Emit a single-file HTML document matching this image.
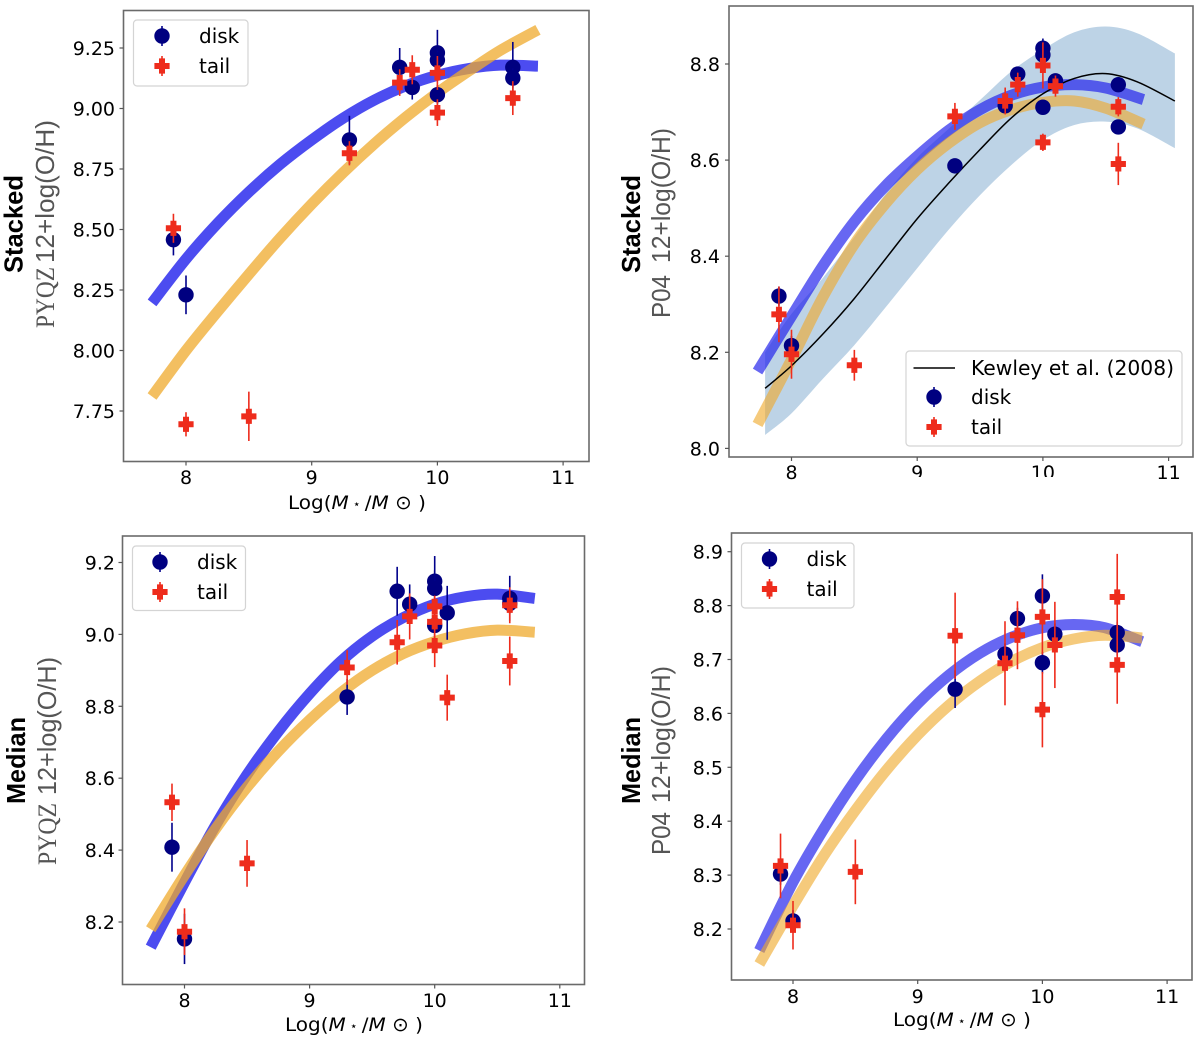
<!DOCTYPE html>
<html lang="en">
<head>
<meta charset="utf-8">
<title>Mass-metallicity relation panels</title>
<style>
html,body{margin:0;padding:0;background:#fff}
svg{display:block;filter:blur(0.35px)}
text{font-family:"DejaVu Sans","Liberation Sans",sans-serif}
</style>
</head>
<body>
<svg id="figure" width="1200" height="1039" viewBox="0 0 1200 1039" xmlns="http://www.w3.org/2000/svg"></svg>
<script>
// ---------- shared data ----------
const xTickLabels = [8, 9, 10, 11];
const curveX = [7.73, 8, 8.25, 8.5, 8.75, 9, 9.25, 9.5, 9.75, 10, 10.25, 10.5, 10.8];

// ---------- panel 1: Stacked PYQZ ----------
const p1YTicks = ['7.75', '8.00', '8.25', '8.50', '8.75', '9.00', '9.25'];
const p1DiskX = [7.9, 8, 9.3, 9.7, 9.8, 10, 10, 10, 10.6, 10.6];
const p1DiskY = [8.458, 8.23, 8.87, 9.17, 9.087, 9.23, 9.2, 9.057, 9.17, 9.126];
const p1DiskErr = [0.065, 0.08, 0.1, 0.08, 0.05, 0.095, 0.04, 0.04, 0.105, 0.04];
const p1TailX = [7.9, 8, 8.5, 9.3, 9.7, 9.8, 10, 10, 10.6];
const p1TailY = [8.505, 7.695, 7.728, 8.815, 9.107, 9.16, 9.147, 8.983, 9.043];
const p1TailErr = [0.06, 0.05, 0.102, 0.05, 0.055, 0.06, 0.07, 0.055, 0.07];
const p1Blue = [8.197, 8.378, 8.525, 8.655, 8.77, 8.87, 8.96, 9.035, 9.094, 9.137, 9.165, 9.179, 9.175];
const p1Orange = [7.81, 8.0, 8.16, 8.315, 8.465, 8.605, 8.735, 8.855, 8.965, 9.065, 9.155, 9.24, 9.325];

// ---------- panel 2: Stacked P04 ----------
const p2YTicks = ['8.0', '8.2', '8.4', '8.6', '8.8'];
const p2DiskX = [7.9, 8, 9.3, 9.7, 9.8, 10, 10, 10, 10.1, 10.6, 10.6];
const p2DiskY = [8.317, 8.214, 8.588, 8.713, 8.779, 8.833, 8.819, 8.71, 8.765, 8.757, 8.669];
const p2DiskErr = [0.02, 0.02, 0.015, 0.015, 0.015, 0.02, 0.015, 0.015, 0.015, 0.015, 0.015];
const p2TailX = [7.9, 8, 8.5, 9.3, 9.7, 9.8, 10, 10, 10.1, 10.6, 10.6];
const p2TailY = [8.279, 8.196, 8.173, 8.691, 8.723, 8.757, 8.797, 8.637, 8.754, 8.711, 8.592];
const p2TailErr = [0.058, 0.051, 0.032, 0.028, 0.028, 0.025, 0.048, 0.018, 0.022, 0.02, 0.044];
const p2Blue = [8.16, 8.275, 8.38, 8.472, 8.547, 8.608, 8.662, 8.705, 8.735, 8.752, 8.757, 8.75, 8.726];
const p2Orange = [8.05, 8.185, 8.315, 8.425, 8.51, 8.58, 8.635, 8.678, 8.705, 8.72, 8.723, 8.708, 8.675];
const kewleyX = [7.79, 8, 8.25, 8.5, 8.75, 9, 9.25, 9.5, 9.75, 10, 10.25, 10.5, 10.75, 11.05];
const kewleyY = [8.125, 8.172, 8.238, 8.312, 8.395, 8.478, 8.552, 8.622, 8.688, 8.738, 8.77, 8.78, 8.763, 8.723];
const kewleyUpper = [8.2, 8.28, 8.355, 8.44, 8.53, 8.605, 8.665, 8.725, 8.785, 8.83, 8.866, 8.878, 8.864, 8.822];
const kewleyLower = [8.028, 8.073, 8.145, 8.215, 8.294, 8.375, 8.455, 8.527, 8.59, 8.642, 8.673, 8.68, 8.666, 8.625];

// ---------- panel 3: Median PYQZ ----------
const p3YTicks = ['8.2', '8.4', '8.6', '8.8', '9.0', '9.2'];
const p3DiskX = [7.9, 8, 9.3, 9.7, 9.8, 10, 10, 10, 10.1, 10.6, 10.6];
const p3DiskY = [8.408, 8.153, 8.826, 9.12, 9.084, 9.148, 9.128, 9.025, 9.06, 9.1, 9.086];
const p3DiskErr = [0.068, 0.07, 0.05, 0.068, 0.055, 0.07, 0.05, 0.05, 0.075, 0.063, 0.03];
const p3TailX = [7.9, 8, 8.5, 9.3, 9.7, 9.8, 10, 10, 10, 10.1, 10.6, 10.6];
const p3TailY = [8.533, 8.173, 8.363, 8.908, 8.978, 9.05, 9.078, 9.035, 8.969, 8.824, 9.081, 8.926];
const p3TailErr = [0.052, 0.065, 0.065, 0.048, 0.062, 0.064, 0.03, 0.05, 0.06, 0.064, 0.05, 0.068];
const p3Blue = [8.13, 8.31, 8.47, 8.61, 8.73, 8.835, 8.925, 8.995, 9.047, 9.084, 9.105, 9.112, 9.1];
const p3Orange = [8.18, 8.33, 8.46, 8.575, 8.675, 8.762, 8.838, 8.9, 8.947, 8.98, 9.002, 9.012, 9.006];

// ---------- panel 4: Median P04 ----------
const p4YTicks = ['8.2', '8.3', '8.4', '8.5', '8.6', '8.7', '8.8', '8.9'];
const p4DiskX = [7.9, 8, 9.3, 9.7, 9.8, 10, 10, 10.1, 10.6, 10.6];
const p4DiskY = [8.302, 8.215, 8.645, 8.71, 8.776, 8.818, 8.694, 8.747, 8.75, 8.727];
const p4DiskErr = [0.02, 0.02, 0.035, 0.02, 0.02, 0.04, 0.02, 0.02, 0.02, 0.02];
const p4TailX = [7.9, 8, 8.5, 9.3, 9.7, 9.8, 10, 10, 10.1, 10.6, 10.6];
const p4TailY = [8.317, 8.207, 8.306, 8.744, 8.693, 8.745, 8.779, 8.607, 8.727, 8.816, 8.69];
const p4TailErr = [0.06, 0.045, 0.06, 0.08, 0.078, 0.063, 0.07, 0.07, 0.08, 0.08, 0.072];
const p4Blue = [8.16, 8.287, 8.387, 8.476, 8.553, 8.618, 8.671, 8.712, 8.741, 8.759, 8.765, 8.759, 8.733];
const p4Orange = [8.135, 8.243, 8.337, 8.42, 8.495, 8.56, 8.615, 8.66, 8.696, 8.722, 8.738, 8.745, 8.74];

// ---------- drawing helpers ----------
const NS = 'http://www.w3.org/2000/svg';
const root = document.getElementById('figure');
function make(tag, attrs, parent, text) {
  const e = document.createElementNS(NS, tag);
  for (const k in attrs) e.setAttribute(k, attrs[k]);
  if (text !== undefined) e.textContent = text;
  (parent || root).appendChild(e);
  return e;
}
function smooth(pts) {
  let d = 'M' + pts[0][0].toFixed(2) + ' ' + pts[0][1].toFixed(2);
  for (let i = 0; i < pts.length - 1; i++) {
    const p0 = pts[Math.max(i - 1, 0)], p1 = pts[i], p2 = pts[i + 1], p3 = pts[Math.min(i + 2, pts.length - 1)];
    const c1x = p1[0] + (p2[0] - p0[0]) / 6, c1y = p1[1] + (p2[1] - p0[1]) / 6;
    const c2x = p2[0] - (p3[0] - p1[0]) / 6, c2y = p2[1] - (p3[1] - p1[1]) / 6;
    d += 'C' + c1x.toFixed(2) + ' ' + c1y.toFixed(2) + ' ' + c2x.toFixed(2) + ' ' + c2y.toFixed(2) + ' ' + p2[0].toFixed(2) + ' ' + p2[1].toFixed(2);
  }
  return d;
}
function plusPoints(cx, cy) {
  const a = 7.6, b = 3;
  return [[-b,-a],[b,-a],[b,-b],[a,-b],[a,b],[b,b],[b,a],[-b,a],[-b,b],[-a,b],[-a,-b],[-b,-b]]
    .map(p => (cx + p[0]) + ',' + (cy + p[1])).join(' ');
}
function drawDisk(g, cx, cy, top, bottom) {
  const bar = make('line', {x1: cx, x2: cx, y1: top, y2: bottom, stroke: '#00008b', 'stroke-width': 1.6}, g);
  
  
  const dot = make('circle', {cx: cx, cy: cy, r: 7.7, fill: '#000080'}, g);
  
  
}
function drawTail(g, cx, cy, top, bottom) {
  const bar = make('line', {x1: cx, x2: cx, y1: top, y2: bottom, stroke: '#ee2c1c', 'stroke-width': 1.6}, g);
  
  
  const mark = make('polygon', {points: plusPoints(cx, cy), fill: '#ee2c1c'}, g);
  
  
}
function rotText(x, y, len, str, parent, attrs) {
  const a = Object.assign({transform: 'translate(' + x + ',' + y + ') rotate(-90)', textLength: len, lengthAdjust: 'spacingAndGlyphs'}, attrs);
  return make('text', a, parent, str);
}

function drawPanel(c) {
  const g = make('g', {}, root);
  
  
  const X = v => c.x8 + (v - 8) * c.xUnit;
  const Y = v => c.yRefPx + (c.yRef - v) * c.yUnit;

  const bg = make('rect', {x: c.left, y: c.top, width: c.right - c.left, height: c.bottom - c.top, fill: '#fff'}, g);
  
  

  if (c.band) {
    const up = c.band.x.map((v, i) => [X(v), Y(c.band.upper[i])]);
    const lo = c.band.x.map((v, i) => [X(v), Y(c.band.lower[i])]).reverse();
    const bandD = smooth(up) + 'L' + lo[0][0] + ' ' + lo[0][1] + smooth(lo).replace(/^M[^C]*/, '') + 'Z';
    const band = make('path', {d: bandD, fill: '#bdd3e6'}, g);
    
    
  }
  const blue = make('path', {d: smooth(curveX.map((v, i) => [X(v), Y(c.blue[i])])), fill: 'none', stroke: '#1f1fec', 'stroke-opacity': c.blueAlpha, 'stroke-width': 11}, g);
  
  
  const orange = make('path', {d: smooth(curveX.map((v, i) => [X(v), Y(c.orange[i])])), fill: 'none', stroke: '#efa92c', 'stroke-opacity': c.orangeAlpha, 'stroke-width': 11}, g);
  
  
  if (c.band) {
    const k = make('path', {d: smooth(c.band.x.map((v, i) => [X(v), Y(c.band.mid[i])])), fill: 'none', stroke: '#000', 'stroke-width': 1.5}, g);
    
    
  }
  c.diskX.forEach((v, i) => {
    drawDisk(g, X(v), Y(c.diskY[i]), Y(c.diskY[i] + c.diskErr[i]), Y(c.diskY[i] - c.diskErr[i]));
  });
  c.tailX.forEach((v, i) => {
    drawTail(g, X(v), Y(c.tailY[i]), Y(c.tailY[i] + c.tailErr[i]), Y(c.tailY[i] - c.tailErr[i]));
  });

  const frame = make('rect', {x: c.left, y: c.top, width: c.right - c.left, height: c.bottom - c.top, fill: 'none', stroke: '#6a6a6a', 'stroke-width': 1.6}, g);
  
  

  xTickLabels.forEach(v => {
    const t = make('line', {x1: X(v), x2: X(v), y1: c.bottom, y2: c.bottom + 4, stroke: '#555', 'stroke-width': 1.2}, g);
    
    
    const l = make('text', {x: X(v), y: c.xTickBase, 'text-anchor': 'middle', 'font-size': 19, fill: '#000'}, g, String(v));
    
    
  });
  c.yTicks.forEach(s => {
    const v = parseFloat(s);
    const t = make('line', {x1: c.left - 4, x2: c.left, y1: Y(v), y2: Y(v), stroke: '#555', 'stroke-width': 1.2}, g);
    
    
    const l = make('text', {x: c.yTickEnd, y: Y(v) + 7, 'text-anchor': 'end', 'font-size': 19, fill: '#000'}, g, s);
    
    
  });
  if (c.hideLow) {
    const cover = make('rect', {x: c.hideLow[0], y: c.hideLow[1], width: c.hideLow[2], height: 12, fill: '#fff'}, g);
    
    
  }
  if (c.xLabel) {
    const xl = make('text', {x: c.xLabel[0], y: c.xLabel[1], textLength: 138, lengthAdjust: 'spacingAndGlyphs', 'font-size': 19, fill: '#000'}, g);
    xl.innerHTML = 'Log(<tspan font-style="italic">M</tspan><tspan font-size="12" dy="-1"> ⋆ </tspan><tspan dy="1">/</tspan><tspan font-style="italic">M</tspan> ⊙ )';
    
    
  }
  const gray = {'font-size': 26, fill: '#555', style: 'font-family:"Liberation Sans",sans-serif'};
  const dg = c.diag;
  const d1 = rotText(dg.grayX, dg.diagBottom, dg.diagLen, c.diagName, g, Object.assign({}, gray, c.diagName === 'PYQZ' ? {style: 'font-family:"Liberation Serif",serif'} : {}));
  
  
  const d2 = rotText(dg.grayX, dg.restBottom, dg.restLen, '12+log(O/H)', g, gray);
  
  
  const d3 = rotText(dg.boldX, dg.boldBottom, dg.boldLen, c.method, g, {'font-size': 26, 'font-weight': 'bold', fill: '#000', style: 'font-family:"Liberation Sans",sans-serif'});
  
  

  const L = c.legend;
  const lg = make('g', {}, g);
  
  
  const box = make('rect', {x: L.x, y: L.y, width: L.w, height: L.h, rx: 3.5, fill: '#fff', 'fill-opacity': 0.9, stroke: '#d4d4d4', 'stroke-width': 1.2}, lg);
  
  
  if (L.kewleyY) {
    const ll = make('line', {x1: L.lineX1, x2: L.lineX2, y1: L.kewleyY, y2: L.kewleyY, stroke: '#000', 'stroke-width': 1.5}, lg);
    
    
    const lt = make('text', {x: L.textX, y: L.kewleyY + 7, 'font-size': 20, fill: '#000', textLength: 203, lengthAdjust: 'spacingAndGlyphs'}, lg, 'Kewley et al. (2008)');
    
    
  }
  drawDisk(lg, L.markX, L.diskY, L.diskY - 10, L.diskY + 10);
  const dt = make('text', {x: L.textX, y: L.diskY + 7, 'font-size': 20, fill: '#000'}, lg, 'disk');
  
  
  drawTail(lg, L.markX, L.tailY, L.tailY - 10, L.tailY + 10);
  const tt = make('text', {x: L.textX, y: L.tailY + 7, 'font-size': 20, fill: '#000'}, lg, 'tail');
  
  
}

drawPanel({
  name: 'panel-stacked-pyqz', method: 'Stacked', diagName: 'PYQZ',
  left: 123.5, right: 589, top: 10.5, bottom: 461.5,
  x8: 186, xUnit: 125.7, yRef: 9.25, yRefPx: 48, yUnit: 242,
  yTicks: p1YTicks, yTickEnd: 115, xTickBase: 484, xLabel: [288, 509],
  diskX: p1DiskX, diskY: p1DiskY, diskErr: p1DiskErr, tailX: p1TailX, tailY: p1TailY, tailErr: p1TailErr,
  blue: p1Blue, orange: p1Orange, blueAlpha: 0.8, orangeAlpha: 0.75,
  diag: {grayX: 54, diagBottom: 328, diagLen: 61, restBottom: 263, restLen: 143, boldX: 22.5, boldBottom: 273, boldLen: 98},
  legend: {x: 133.5, y: 20, w: 114.5, h: 66, markX: 162, diskY: 36, tailY: 66, textX: 199}
});
drawPanel({
  name: 'panel-stacked-p04', method: 'Stacked', diagName: 'P04',
  left: 729, right: 1193, top: 6, bottom: 457,
  x8: 791.5, xUnit: 125.7, yRef: 8.8, yRefPx: 64, yUnit: 480.5,
  yTicks: p2YTicks, yTickEnd: 720, xTickBase: 479, hideLow: [880, 477, 200],
  diskX: p2DiskX, diskY: p2DiskY, diskErr: p2DiskErr, tailX: p2TailX, tailY: p2TailY, tailErr: p2TailErr,
  blue: p2Blue, orange: p2Orange, blueAlpha: 0.68, orangeAlpha: 0.62,
  band: {x: kewleyX, mid: kewleyY, upper: kewleyUpper, lower: kewleyLower},
  diag: {grayX: 670, diagBottom: 318, diagLen: 43, restBottom: 263, restLen: 135, boldX: 640, boldBottom: 273, boldLen: 98},
  legend: {x: 906, y: 351, w: 276, h: 95, lineX1: 913.5, lineX2: 955, kewleyY: 368, markX: 934, diskY: 397, tailY: 427, textX: 971}
});
drawPanel({
  name: 'panel-median-pyqz', method: 'Median', diagName: 'PYQZ',
  left: 122.5, right: 584.5, top: 536, bottom: 984.5,
  x8: 184.5, xUnit: 125.1, yRef: 9.2, yRefPx: 562.5, yUnit: 359.5,
  yTicks: p3YTicks, yTickEnd: 115, xTickBase: 1007, xLabel: [285, 1031],
  diskX: p3DiskX, diskY: p3DiskY, diskErr: p3DiskErr, tailX: p3TailX, tailY: p3TailY, tailErr: p3TailErr,
  blue: p3Blue, orange: p3Orange, blueAlpha: 0.8, orangeAlpha: 0.75,
  diag: {grayX: 56, diagBottom: 865, diagLen: 62, restBottom: 795, restLen: 138, boldX: 25, boldBottom: 804, boldLen: 87},
  legend: {x: 132.5, y: 546, w: 113, h: 64.5, markX: 160, diskY: 562, tailY: 592, textX: 197}
});
drawPanel({
  name: 'panel-median-p04', method: 'Median', diagName: 'P04',
  left: 731.5, right: 1192, top: 533, bottom: 980,
  x8: 793, xUnit: 124.7, yRef: 8.9, yRefPx: 551.7, yUnit: 539,
  yTicks: p4YTicks, yTickEnd: 723, xTickBase: 1003, xLabel: [893, 1026],
  diskX: p4DiskX, diskY: p4DiskY, diskErr: p4DiskErr, tailX: p4TailX, tailY: p4TailY, tailErr: p4TailErr,
  blue: p4Blue, orange: p4Orange, blueAlpha: 0.68, orangeAlpha: 0.62,
  diag: {grayX: 670, diagBottom: 855, diagLen: 43, restBottom: 803, restLen: 137, boldX: 640, boldBottom: 804, boldLen: 87},
  legend: {x: 741.5, y: 543, w: 112.5, h: 65, markX: 769.5, diskY: 559, tailY: 589, textX: 806.5}
});
</script>
</body>
</html>
